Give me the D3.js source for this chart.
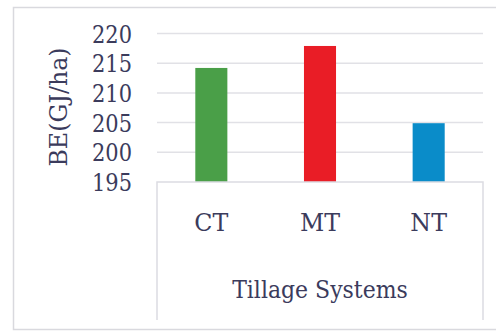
<!DOCTYPE html>
<html>
<head>
<meta charset="utf-8">
<script src="https://cdn.jsdelivr.net/npm/d3@7"></script>
<style>
  body { margin: 0; background: #fff; }
</style>
</head>
<body>
<div id="chart"></div>
<script>
// values
var categories = ["CT", "MT", "NT"];
var values = [214.2, 217.9, 204.9];
var colors = ["#4a9f48", "#e91d26", "#0a8cc9"];
var yTicks = [195, 200, 205, 210, 215, 220];

// only DejaVu Serif is there as a serif face, so squeeze it a bit to look like Times
var FONT = "'DejaVu Serif', serif";
var INK = "#3b3b5c";

var W = 496, H = 331;
var margin = {top: 33.5, left: 157, right: 13, bottom: 149};
var width = W - margin.left - margin.right,
    height = H - margin.top - margin.bottom;

var svg = d3.select("#chart").append("svg")
  .attr("width", W)
  .attr("height", H)
  .attr("font-family", FONT)
  .attr("fill", INK);

// outer frame (left, top, bottom only - right is cut off)
svg.append("path")
  .attr("d", "M" + (W + 5) + ",7.5 H13.5 V329.5 H" + (W + 5))
  .attr("fill", "none")
  .attr("stroke", "#d9d9de")
  .attr("stroke-width", 1.5);

var y = d3.scaleLinear().domain([195, 220]).range([height, 0]);
var x = d3.scaleBand().domain(categories).range([0, width])
  .paddingInner(0.705).paddingOuter(0.3525);

var g = svg.append("g")
  .attr("transform", "translate(" + margin.left + "," + margin.top + ")");

// gridlines
g.selectAll(".grid")
  .data(yTicks.filter(function(d){ return d > 195; }))
  .enter().append("line")
  .attr("x1", 0).attr("x2", width)
  .attr("y1", function(d){ return y(d); })
  .attr("y2", function(d){ return y(d); })
  .attr("stroke", "#e1e1e6")
  .attr("stroke-width", 1.5);

// y tick labels
g.selectAll(".ytick")
  .data(yTicks)
  .enter().append("text")
  .attr("transform", function(d){ return "translate(-25," + y(d) + ") scale(0.84,1)"; })
  .attr("dy", "0.36em")
  .attr("text-anchor", "end")
  .style("font-family", FONT)
  .style("font-size", "25px")
  .text(function(d){ return d; });

// bars
g.selectAll(".bar")
  .data(values)
  .enter().append("rect")
  .attr("x", function(d, i){ return x(categories[i]); })
  .attr("width", x.bandwidth())
  .attr("y", function(d){ return y(d); })
  .attr("height", function(d){ return y(195) - y(d); })
  .attr("fill", function(d, i){ return colors[i]; });

// x axis box
var boxBottom = 320 - margin.top;
g.append("path")
  .attr("d", "M0," + boxBottom + " V" + y(195) + " H" + width + " V" + boxBottom)
  .attr("fill", "none")
  .attr("stroke", "#dcdce2")
  .attr("stroke-width", 1.5);

// category labels
g.selectAll(".xtick")
  .data(categories)
  .enter().append("text")
  .attr("transform", function(d){
    return "translate(" + (x(d) + x.bandwidth() / 2) + "," + (y(195) + 40) + ") scale(0.95,1)";
  })
  .attr("dy", "0.36em")
  .attr("text-anchor", "middle")
  .style("font-family", FONT)
  .style("font-size", "25px")
  .text(function(d){ return d; });

// x axis title
g.append("text")
  .attr("transform", "translate(" + (width / 2) + "," + (298 - margin.top) + ") scale(0.88,1)")
  .attr("text-anchor", "middle")
  .style("font-family", FONT)
  .style("font-size", "25px")
  .text("Tillage Systems");

// y axis title
svg.append("text")
  .attr("transform", "translate(58,107) rotate(-90) scale(0.95,1)")
  .attr("dy", "0.36em")
  .attr("text-anchor", "middle")
  .style("font-family", FONT)
  .style("font-size", "25px")
  .text("BE(GJ/ha)");
</script>
</body>
</html>
